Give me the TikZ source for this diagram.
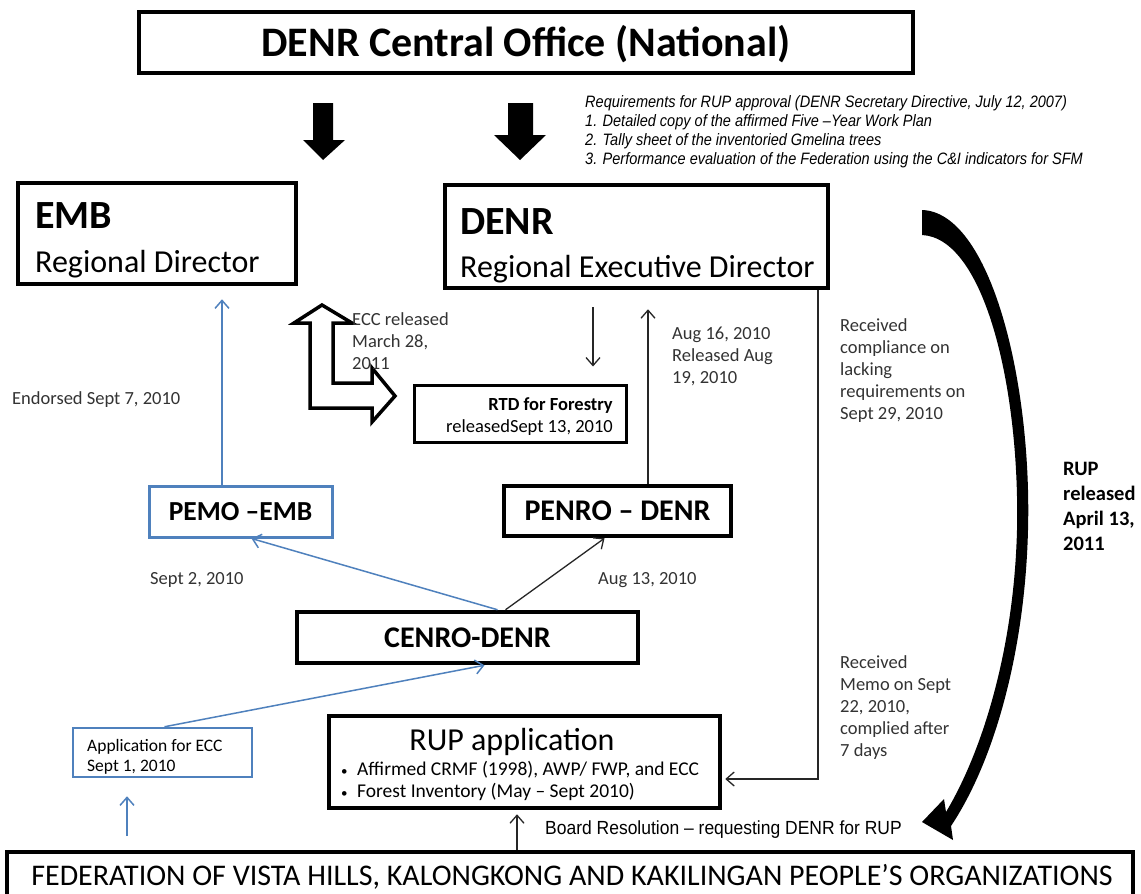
\documentclass[tikz,border=0pt]{standalone}
\usepackage{fontspec}
\setmainfont{Carlito}
\newfontfamily\arialc[FakeStretch=0.88]{Liberation Sans}
\newfontfamily\arialb[FakeStretch=0.92]{Liberation Sans}
\usetikzlibrary{arrows.meta}
\definecolor{boxblue}{HTML}{4F81BD}
\definecolor{lblgray}{HTML}{333333}
\newcommand\myfs[2]{\fontsize{#1}{#2}\selectfont}
\begin{document}
\begin{tikzpicture}[x=1pt,y=-1pt,
  thickbox/.style={draw=black, line width=4.5pt, inner sep=0pt, fill=white},
  midbox/.style={draw=black, line width=3pt, inner sep=0pt, fill=white},
  bluebox/.style={draw=boxblue, line width=3pt, inner sep=0pt, fill=white},
  txt/.style={inner sep=0pt, anchor=base west, align=left},
  lbl/.style={txt, text=lblgray, font=\myfs{18.5}{22}},
  kconn/.style={draw=black!85, line width=1.3pt, -{Straight Barb[length=8pt,width=14pt,line width=1.3pt]}},
  bconn/.style={draw=boxblue, line width=1.5pt, -{Straight Barb[length=8pt,width=14pt,line width=1.5pt]}},
  blockarrow/.style={fill=black, draw=none}
]
\useasboundingbox (0,0) rectangle (1141,894);
\fill[white] (0,0) rectangle (1141,894);

% ---------- boxes ----------
\node[thickbox, minimum width=774pt, minimum height=61pt] (central) at (526,42.5) {};
\node[inner sep=0pt, font=\bfseries\myfs{42}{48}] (centralT) at (526,44) {DENR Central Office (National)};

\node[thickbox, minimum width=278pt, minimum height=101pt] (emb) at (157,233.5) {};
\node[txt, font=\bfseries\myfs{40}{44}] (embT1) at (35,228) {EMB};
\node[txt, font=\myfs{32}{34}] (embT2) at (35,272) {Regional Director};

\node[thickbox, minimum width=383pt, minimum height=103pt] (denr) at (636.5,236.5) {};
\node[txt, font=\bfseries\myfs{40}{44}] (denrT1) at (460,234) {DENR};
\node[txt, font=\myfs{32}{34}] (denrT2) at (460,277) {Regional Executive Director};

\node[midbox, minimum width=212pt, minimum height=57pt] (rtd) at (520,413.5) {};
\node[inner sep=0pt, anchor=base east, font=\bfseries\myfs{18.5}{20}] (rtdT1) at (613,410) {RTD for Forestry};
\node[inner sep=0pt, anchor=base east, font=\myfs{18.5}{20}] (rtdT2) at (613,432) {releasedSept 13, 2010};

\node[bluebox, minimum width=183pt, minimum height=51pt, font=\bfseries\myfs{27.5}{32}] (pemo) at (240.5,511.5) {PEMO –EMB};
\node[thickbox, minimum width=227pt, minimum height=50pt, font=\bfseries\myfs{30}{32}] (penro) at (617.5,511) {PENRO – DENR};
\node[thickbox, minimum width=341pt, minimum height=51pt, font=\bfseries\myfs{30}{32}] (cenro) at (467.5,637.5) {CENRO-DENR};

\node[bluebox, line width=2.5pt, minimum width=179pt, minimum height=49pt] (appecc) at (162.5,752.5) {};
\node[txt, font=\myfs{17.5}{20}] (appeccT) at (87,771) {Application for ECC\\Sept 1, 2010};

\node[thickbox, minimum width=391pt, minimum height=92pt] (rupapp) at (524.5,762) {};
\node[inner sep=0pt, anchor=base, font=\myfs{32}{34}] (rupappT) at (512,750) {RUP application};
\node[txt, font=\myfs{19.5}{22}] (rupb1) at (341,775) {\makebox[16pt][l]{\myfs{13}{13}\textbullet}Affirmed CRMF (1998), AWP/ FWP, and ECC};
\node[txt, font=\myfs{19.5}{22}] (rupb2) at (341,797) {\makebox[16pt][l]{\myfs{13}{13}\textbullet}Forest Inventory (May – Sept 2010)};

\node[thickbox, minimum width=1126pt, minimum height=52pt] (fed) at (570,878) {};
\node[inner sep=0pt, anchor=base, font=\myfs{30}{32}] (fedT) at (572,885) {FEDERATION OF VISTA HILLS, KALONGKONG AND KAKILINGAN PEOPLE’S ORGANIZATIONS};

% ---------- block arrows from central office ----------
\fill[blockarrow] (313,103) -- (333,103) -- (333,140) -- (345,140) -- (323,160) -- (303,140) -- (313,140) -- cycle;
\fill[blockarrow] (508,103) -- (533,103) -- (533,135) -- (546,135) -- (520,160) -- (494,135) -- (508,135) -- cycle;

% ---------- hollow L arrow ----------
\draw[line width=3.5pt, fill=white, line join=miter] (322,305) -- (352,323) -- (333,323) -- (333,383) -- (372,383) -- (372,368) -- (395,396) -- (372,422) -- (372,408) -- (310,408) -- (310,323) -- (294,323) -- cycle;

% ---------- big curved arrow ----------
\fill[black] (922,210) .. controls (990,212) and (1032,380) .. (1028,530)
  .. controls (1025,650) and (995,760) .. (951,826)
  -- (953,840) -- (922,822) -- (944,799) -- (946,812)
  .. controls (982,752) and (1014,650) .. (1017,530)
  .. controls (1020,390) and (985,238) .. (922,235) -- cycle;

% ---------- requirements text ----------
\node[txt, font=\arialc\itshape\myfs{16.5}{19}] (reqT) at (585,164) {Requirements for RUP approval (DENR Secretary Directive, July 12, 2007)\\1. Detailed copy of the affirmed Five –Year Work Plan\\2. Tally sheet of the inventoried Gmelina trees\\3. Performance evaluation of the Federation using the C\&I indicators for SFM};

% ---------- labels ----------
\node[lbl] (lblEnd) at (12,404) {Endorsed Sept 7, 2010};
\node[lbl] (lblEcc) at (352,369) {ECC released\\March 28,\\2011};
\node[lbl] (lblAug16) at (672,383) {Aug 16, 2010\\Released Aug\\19, 2010};
\node[lbl] (lblComp) at (840,419) {Received\\compliance on\\lacking\\requirements on\\Sept 29, 2010};
\node[lbl] (lblSep2) at (150,584) {Sept 2, 2010};
\node[lbl] (lblAug13) at (598,584) {Aug 13, 2010};
\node[lbl] (lblMemo) at (840,756) {Received\\Memo on Sept\\22, 2010,\\complied after\\7 days};
\node[txt, font=\bfseries\myfs{20.5}{24.7}] (lblRup) at (1063,550) {RUP\\released\\April 13,\\2011};
\node[txt, font=\arialb\myfs{19}{20}] (lblBoard) at (545,834) {Board Resolution – requesting DENR for RUP};

% ---------- connectors ----------
\coordinate (xEmb) at (222,0);
\coordinate (xDown) at (593,0);
\coordinate (xUp) at (648,0);
\coordinate (xRight) at (818,0);
\coordinate (xFedL) at (127,836);
\coordinate (xFedR) at (517,0);

\draw[bconn, shorten >=13pt] (pemo.north -| xEmb) -- (emb.south -| xEmb);
\draw[bconn] ([xshift=30pt]cenro.north) -- ([xshift=11pt]pemo.south);
\draw[kconn] ([xshift=38pt]cenro.north) -- ([xshift=-13pt]penro.south);
\draw[bconn] ([xshift=2pt]appecc.north) -- ([xshift=17pt]cenro.south);
\draw[bconn, shorten >=18pt] (xFedL) -- (appecc.south -| xFedL);
\draw[kconn, shorten >=4pt] (fed.north -| xFedR) -- (rupapp.south -| xFedR);
\draw[kconn, shorten <=17pt, shorten >=17pt] (denr.south -| xDown) -- (rtd.north -| xDown);
\draw[kconn, shorten >=19pt] (penro.north -| xUp) -- (denr.south -| xUp);
\draw[kconn, shorten >=3pt] (denr.south -| xRight) |- ([yshift=-17pt]rupapp.east);
\end{tikzpicture}
\end{document}
